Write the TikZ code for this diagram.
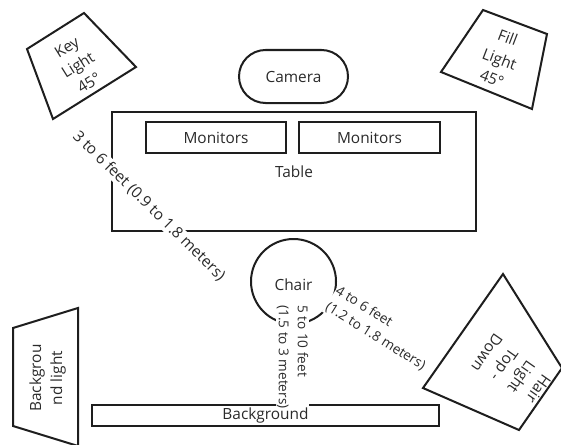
\documentclass[tikz,border=0pt]{standalone}
\usepackage{fontspec}
\setmainfont{Open Sans}
\definecolor{linec}{HTML}{1E1E1E}
\definecolor{textc}{HTML}{2A2A2A}
\newcommand{\bigsz}{\fontsize{15.4}{20}\selectfont}
\newcommand{\lampsz}{\fontsize{15.4}{21}\selectfont}
\newcommand{\smallsz}{\fontsize{13.6}{19}\selectfont}
\begin{document}
\begin{tikzpicture}[x=1pt,y=-1pt,
  outl/.style={draw=linec, line width=2pt},
  boxnode/.style={outl, rectangle, inner sep=0pt, text=textc, font=\bigsz},
  lamptext/.style={align=center, text=textc, font=\lampsz, inner sep=0pt},
  plaintext/.style={text=textc, font=\bigsz, inner sep=0pt},
  distlabel/.style={fill=white, text=textc, font=\bigsz, inner sep=1pt},
  distlabelsm/.style={fill=white, text=textc, font=\smallsz, inner sep=1pt, align=left}]
\useasboundingbox (0,0) rectangle (561,444);

% camera, table, monitors
\node[boxnode, rounded corners=26.5pt, minimum width=109pt, minimum height=53pt] (camera) at (293.5,76.5) {Camera};
\node[boxnode, minimum width=364pt, minimum height=119pt] (table) at (294,171.5) {Table};
\node[boxnode, minimum width=140pt, minimum height=31pt] (mon1) at (216,137.5) {Monitors};
\node[boxnode, minimum width=141pt, minimum height=31pt] (mon2) at (369.5,137.5) {Monitors};

% chair
\node[outl, circle, minimum size=85pt, inner sep=0pt] (chair) at (293.5,281.5) {};
\node[plaintext] (chairtxt) at (293.5,285) {Chair};

% background
\node[boxnode, minimum width=347pt, minimum height=21pt] (bg) at (265.5,415.5) {};

% lamps
\draw[outl] (27,49) -- (84,13) -- (136,67) -- (53,119) -- cycle;
\node[lamptext, rotate=32] (keylight) at (78,65) {Key\\Light\\45°};

\draw[outl] (483,10) -- (547,34) -- (532,109) -- (441,72) -- cycle;
\node[lamptext, rotate=-21] (filllight) at (500,58) {Fill\\[2pt]Light\\45°};

\draw[outl] (13,328) -- (78,308) -- (78,446) -- (13,426) -- cycle;
\node[lamptext, rotate=90] (bglight) at (47.5,378) {Backgrou\\nd light};

\draw[outl] (503,274) -- (562,368) -- (519,430) -- (423,388) -- cycle;
\node[lamptext, rotate=-125] (hairlight) at (513,371) {Hair\\Light\\Top -\\Down};

% distance labels
\node[distlabel, rotate=-44.5] (d1) at (149,206) {3 to 6 feet (0.9 to 1.8 meters)};
\node[distlabelsm, rotate=-32] (d2) at (380.5,328.4) {4 to 6 feet\\(1.2 to 1.8 meters)};
\node[distlabelsm, rotate=-90] (d3) at (292.5,357) {5 to 10 feet\\(1.5 to 3 meters)};

% background text on top
\node[plaintext] (bgtxt) at (bg.center) {Background};
\end{tikzpicture}
\end{document}
